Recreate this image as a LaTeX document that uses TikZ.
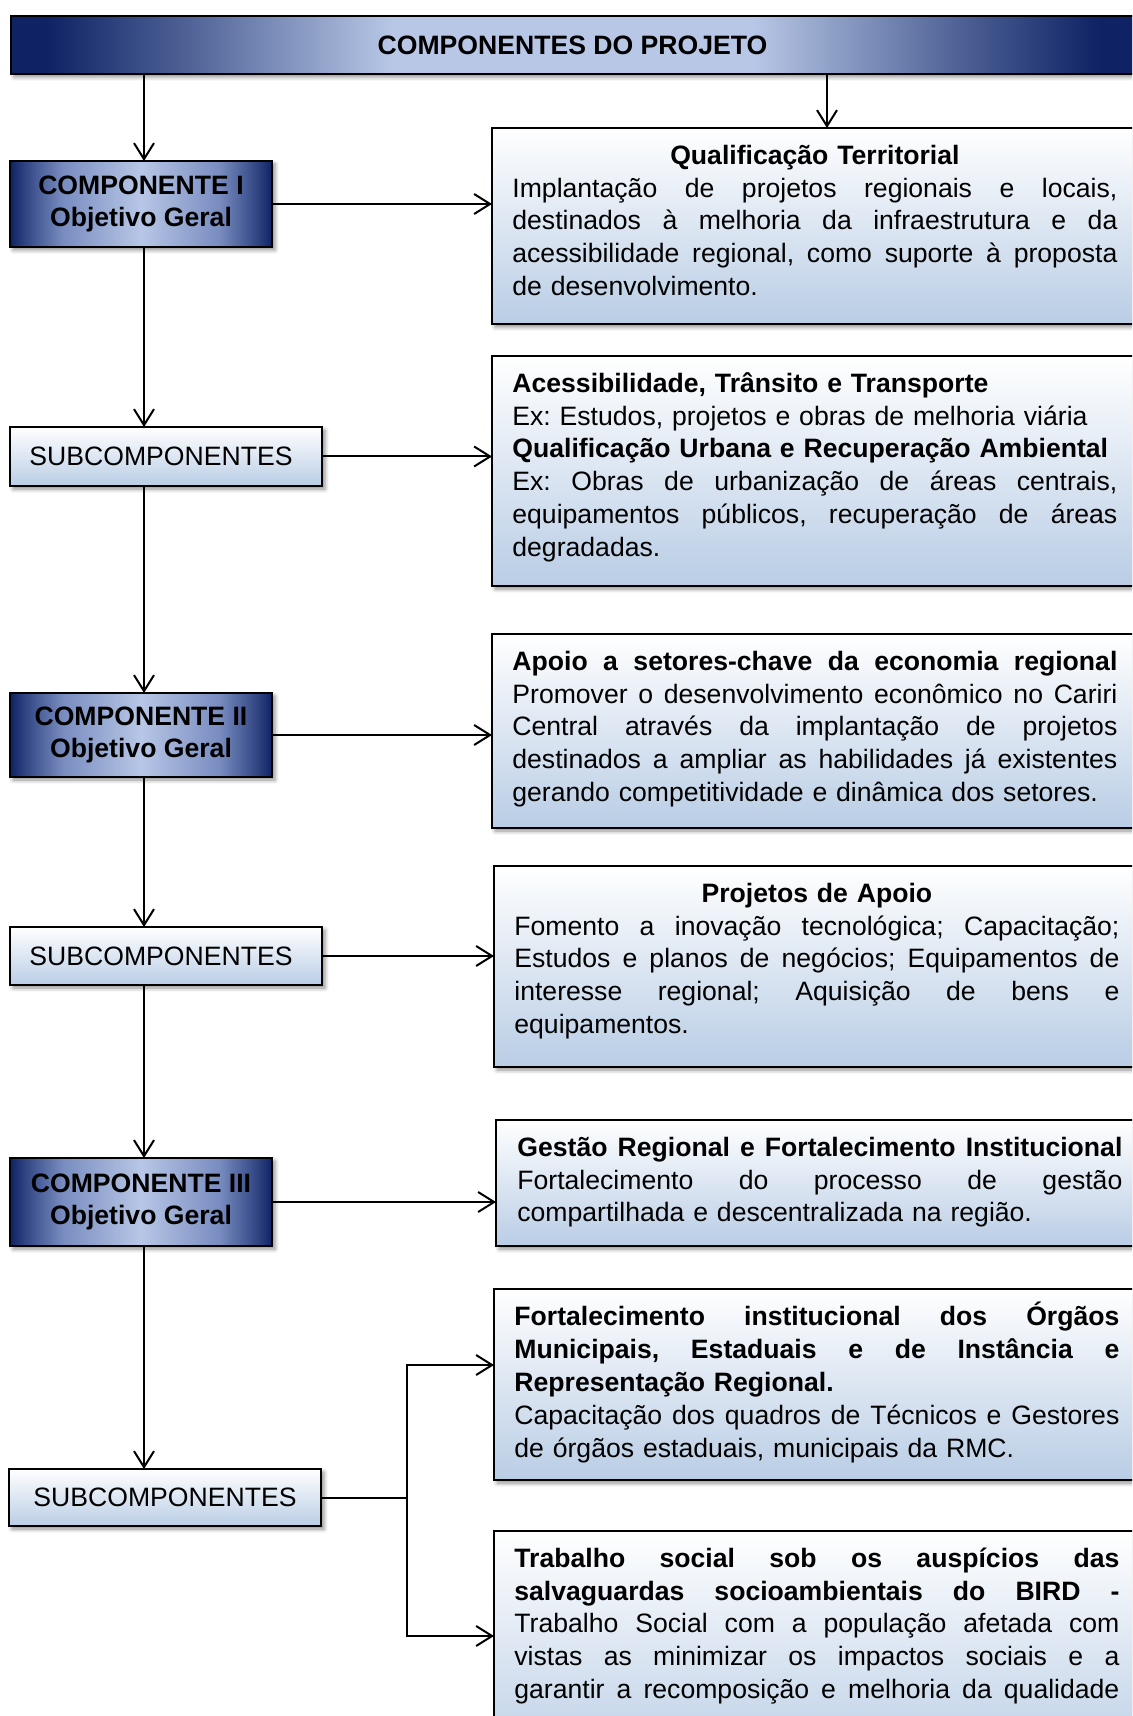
\documentclass[tikz,border=0pt]{standalone}
\usepackage{fontspec}
\setmainfont{Liberation Sans}
\usetikzlibrary{arrows.meta,shadows.blur,calc}
\frenchspacing
\definecolor{navy}{RGB}{14,34,100}
\definecolor{midb}{RGB}{80,100,152}
\definecolor{lightb}{RGB}{184,199,230}
\definecolor{boxb}{RGB}{185,205,229}
\definecolor{cA}{RGB}{45,65,128}
\definecolor{cB}{RGB}{120,140,192}
\pgfdeclarehorizontalshading{barshade}{100bp}{color(0bp)=(navy); color(25bp)=(navy); color(26.5bp)=(navy); color(33bp)=(midb); color(42bp)=(lightb); color(58bp)=(lightb); color(67bp)=(midb); color(73.5bp)=(navy); color(75bp)=(navy); color(100bp)=(navy)}
\pgfdeclarehorizontalshading{compshade}{100bp}{color(0bp)=(navy); color(25bp)=(navy); color(27.5bp)=(cA); color(35bp)=(cB); color(50bp)=(lightb); color(65bp)=(cB); color(72.5bp)=(cA); color(75bp)=(navy); color(100bp)=(navy)}
\newlength\txtw \setlength\txtw{302.5pt}
\newcommand\jl[1]{\makebox[\txtw][s]{\spaceskip=0pt \xspaceskip=0pt #1}}
\tikzset{
 base/.style={draw=black, line width=1pt, inner sep=0pt, outer sep=0pt, anchor=north west,
   blur shadow={shadow xshift=1.5pt, shadow yshift=-1.5pt, shadow blur radius=2pt, shadow opacity=45}},
 sz/.style 2 args={minimum width=#1*0.5pt, minimum height=#2*0.5pt},
 comp/.style={base, shade, shading=compshade, font=\fontsize{13.3}{16.4}\selectfont\bfseries, align=center},
 sub/.style={base, top color=white, bottom color=boxb, font=\fontsize{13.3}{16.4}\selectfont},
 rbox/.style={base, top color=white, bottom color=boxb},
 txt/.style={anchor=north west, inner sep=0pt, text width=\txtw, align=left, font=\fontsize{13.3}{16.4}\selectfont},
 arr/.style={line width=1pt, -{Straight Barb[length=8pt,width=10pt]}},
 ln/.style={line width=1pt},
}
\begin{document}
\begin{tikzpicture}[x=0.5pt,y=-0.5pt]
\useasboundingbox (0,0) rectangle (1132,1716);
\clip (0,0) rectangle (1132,1716);
% title bar
\node[base, shade, shading=barshade, sz={1123}{58}, font=\fontsize{13.3}{16.4}\selectfont\bfseries] (bar) at (11,16) {COMPONENTES DO PROJETO};
% left column
\node[comp, sz={262}{86}] (c1) at (10,161) {COMPONENTE I\\Objetivo Geral};
\node[sub, sz={312}{59}] (s1) at (10,427) {SUBCOMPONENTES\hspace*{5pt}};
\node[comp, sz={262}{84}] (c2) at (10,693) {COMPONENTE II\\Objetivo Geral};
\node[sub, sz={312}{58}] (s2) at (10,927) {SUBCOMPONENTES\hspace*{5pt}};
\node[comp, sz={262}{88}] (c3) at (10,1158) {COMPONENTE III\\Objetivo Geral};
\node[sub, sz={312}{57}] (s3) at (9,1469) {SUBCOMPONENTES};
% right column boxes
\node[rbox, sz={660}{196}] (q1) at (492,128) {};
\node[rbox, sz={660}{230}] (q2) at (492,356) {};
\node[rbox, sz={660}{194}] (q3) at (492,634) {};
\node[rbox, sz={660}{201}] (q4) at (494,866) {};
\node[rbox, sz={660}{126}] (q5) at (496,1120) {};
\node[rbox, sz={660}{191}] (q6) at (494,1289) {};
\node[rbox, sz={660}{240}] (q7) at (494,1531) {};
% texts
\node[txt] (q1t) at ($(q1.north west)+(20,13)$) {\strut\makebox[\txtw][c]{\bfseries Qualificação Territorial}\\
\jl{Implantação de projetos regionais e locais,}\\
\jl{destinados à melhoria da infraestrutura e da}\\
\jl{acessibilidade regional, como suporte à proposta}\\
de desenvolvimento.};
\node[txt] (q2t) at ($(q2.north west)+(20,13)$) {\strut\textbf{Acessibilidade, Trânsito e Transporte}\\
Ex: Estudos, projetos e obras de melhoria viária\\
\textbf{Qualificação Urbana e Recuperação Ambiental}\\
\jl{Ex: Obras de urbanização de áreas centrais,}\\
\jl{equipamentos públicos, recuperação de áreas}\\
degradadas.};
\node[txt] (q3t) at ($(q3.north west)+(20,13)$) {\strut\jl{\bfseries Apoio a setores-chave da economia regional}\\
\jl{Promover o desenvolvimento econômico no Cariri}\\
\jl{Central através da implantação de projetos}\\
\jl{destinados a ampliar as habilidades já existentes}\\
gerando competitividade e dinâmica dos setores.};
\node[txt] (q4t) at ($(q4.north west)+(20,13)$) {\strut\makebox[\txtw][c]{\bfseries Projetos de Apoio}\\
\jl{Fomento a inovação tecnológica; Capacitação;}\\
\jl{Estudos e planos de negócios; Equipamentos de}\\
\jl{interesse regional; Aquisição de bens e}\\
equipamentos.};
\node[txt] (q5t) at ($(q5.north west)+(21,13)$) {\strut\jl{\bfseries Gestão Regional e Fortalecimento Institucional}\\
\jl{Fortalecimento do processo de gestão}\\
compartilhada e descentralizada na região.};
\node[txt] (q6t) at ($(q6.north west)+(20,13)$) {\strut\jl{\bfseries Fortalecimento institucional dos Órgãos}\\
\jl{\bfseries Municipais, Estaduais e de Instância e}\\
\textbf{Representação Regional.}\\
\jl{Capacitação dos quadros de Técnicos e Gestores}\\
de órgãos estaduais, municipais da RMC.};
\node[txt] (q7t) at ($(q7.north west)+(20,13)$) {\strut\jl{\bfseries Trabalho social sob os auspícios das}\\
\jl{\bfseries salvaguardas socioambientais do BIRD -}\\
\jl{Trabalho Social com a população afetada com}\\
\jl{vistas as minimizar os impactos sociais e a}\\
\jl{garantir a recomposição e melhoria da qualidade}};
% connectors
\coordinate (tx) at (827,0);
\coordinate (lx) at (144,0);
\draw[arr] (bar.south -| lx) -- (c1.north -| lx);
\draw[arr] (bar.south -| tx) -- (q1.north -| tx);
\draw[arr] (c1.east) -- (c1.east -| q1.west);
\draw[arr] (c1.south -| lx) -- (s1.north -| lx);
\draw[arr] (s1.east) -- (s1.east -| q2.west);
\draw[arr] (s1.south -| lx) -- (c2.north -| lx);
\draw[arr] (c2.east) -- (c2.east -| q3.west);
\draw[arr] (c2.south -| lx) -- (s2.north -| lx);
\draw[arr] (s2.east) -- (s2.east -| q4.west);
\draw[arr] (s2.south -| lx) -- (c3.north -| lx);
\draw[arr] (c3.east) -- (c3.east -| q5.west);
\draw[arr] (c3.south -| lx) -- (s3.north -| lx);
\coordinate (spx) at (407,0);
\coordinate (e6) at (0,1365);
\coordinate (e7) at (0,1636);
\coordinate (sp) at (s3.east -| spx);
\draw[ln] (s3.east) -- (sp);
\draw[arr] (sp) |- (q6.west |- e6);
\draw[arr] (sp) |- (q7.west |- e7);
\end{tikzpicture}
\end{document}
